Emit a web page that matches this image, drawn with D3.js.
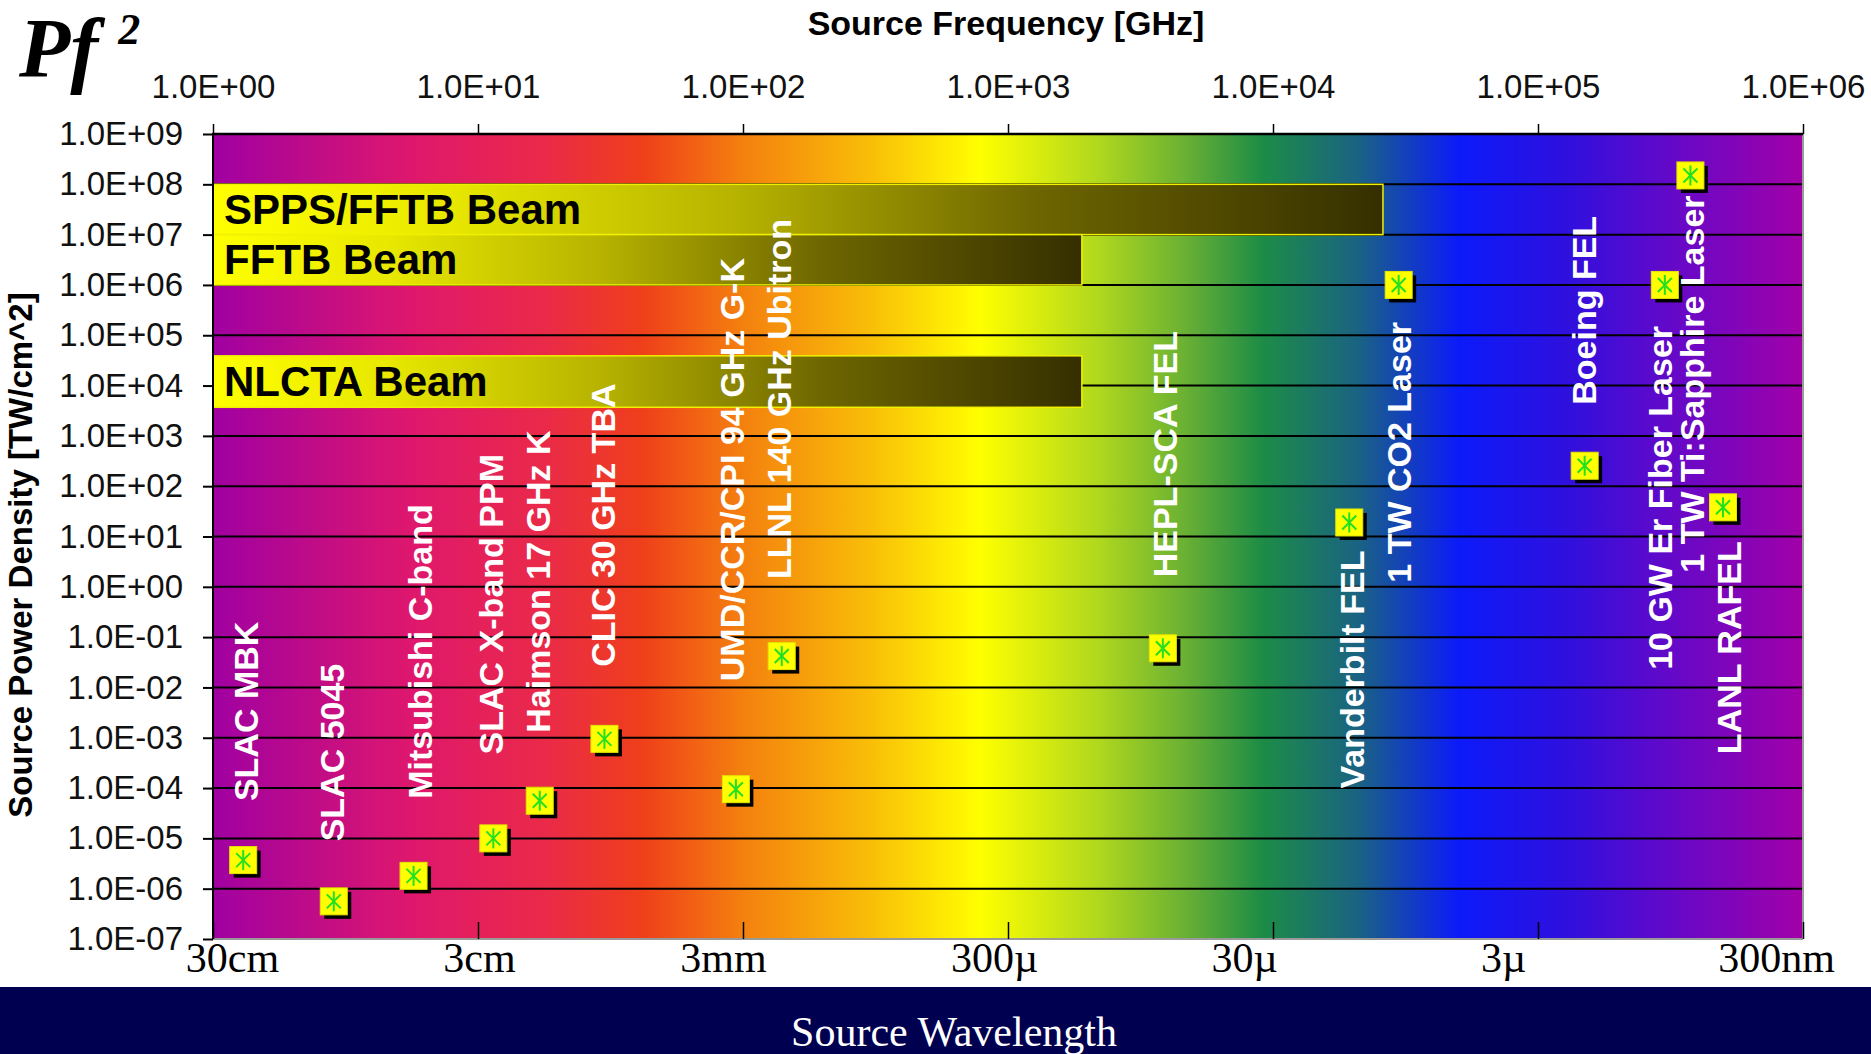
<!DOCTYPE html>
<html><head><meta charset="utf-8">
<script src="https://cdn.jsdelivr.net/npm/d3@7"></script>
<style>body{margin:0;background:#fff;} svg{display:block;}</style>
</head><body>
<svg id="chart" width="1871" height="1054"></svg>
<script>
// ---------------- data ----------------
const sources = ["SLAC MBK", "SLAC 5045", "Mitsubishi C-band", "SLAC X-band PPM", "Haimson 17 GHz K",
  "CLIC 30 GHz TBA", "UMD/CCR/CPI 94 GHz G-K", "LLNL 140 GHz Ubitron", "HEPL-SCA FEL", "Vanderbilt FEL",
  "1 TW CO2 Laser", "Boeing FEL", "10 GW Er Fiber Laser", "1 TW Ti:Sapphire Laser", "LANL RAFEL"];
const freqGHz = [1.3, 2.856, 5.712, 11.424, 17.1, 30, 94, 140, 3840, 19400, 29800, 150000, 301000, 376000, 499000];
const powerDensity = [3.7e-6, 5.6e-7, 1.8e-6, 1.0e-5, 5.6e-5, 9.5e-4, 9.5e-5, 0.042, 0.06, 19, 1.0e6, 255, 1.0e6, 1.5e8, 38];

const beams = ["SPPS/FFTB Beam", "FFTB Beam", "NLCTA Beam"];
const beamMaxFreq = [2.6e4, 1.9e3, 1.9e3];
const beamLow = [1e7, 1e6, 3.7e3];
const beamHigh = [1e8, 1e7, 3.9e4];

const freqTicks = [1, 10, 100, 1e3, 1e4, 1e5, 1e6];
const powerTicks = [1e-7, 1e-6, 1e-5, 1e-4, 1e-3, 1e-2, 1e-1, 1, 10, 100, 1e3, 1e4, 1e5, 1e6, 1e7, 1e8, 1e9];
const gridTicks = [1e-6, 1e-5, 1e-4, 1e-3, 1e-2, 1e-1, 1, 10, 100, 1e3, 1e4, 1e5, 1e6, 1e7, 1e8];
const waveTicks = [0.3, 0.03, 0.003, 3e-4, 3e-5, 3e-6, 3e-7];   // metres
const waveLabels = ["30cm", "3cm", "3mm", "300\u00b5", "30\u00b5", "3\u00b5", "300nm"];

// ---------------- layout (pixels, not data) ----------------
const labelSide = ["above","above","above","above","above","above","above","above","above","below","below","above","below","below","below"];
const labelGap = [59, 60, 77, 84, 68, 72, 108, 77, 71, 28, 37, 61, 41, 20, 34];
const labelDx = [3, -2, 6, -3, -2, -2, -4, -3, 2, 2, 0, -1, -5, 1, 6];
const waveLabelNudge = [19, 1, -20, -14, -29, -35, -27];

const W = 1871, H = 1054;
const L = 213, R = 1803, T = 134, B = 939;
const SANS = "'Liberation Sans', Arial, sans-serif";
const SERIF = "'Liberation Serif', 'Times New Roman', serif";

const svg = d3.select("#chart");
const defs = svg.append("defs");

const x = d3.scaleLog().domain([1, 1e6]).range([L, R]);
const y = d3.scaleLog().domain([1e-7, 1e9]).range([B, T]);
const w = d3.scaleLog().domain([0.3, 3e-7]).range([L, R]);

const fmtE = d => {
  const e = Math.round(Math.log10(d));
  return "1.0E" + (e < 0 ? "-" : "+") + String(Math.abs(e)).padStart(2, "0");
};

// background spectrum gradient
const spectrum = [
  [0.000, "#a000a2"], [0.128, "#e0186c"], [0.210, "#ea2a48"], [0.270, "#ef3f1a"],
  [0.335, "#f4820e"], [0.415, "#f9bf08"], [0.482, "#ffff00"], [0.555, "#b2d91d"],
  [0.612, "#69b034"], [0.660, "#1d8c46"], [0.720, "#1a6382"], [0.784, "#0c1afa"],
  [0.850, "#2e10de"], [0.925, "#6a08c6"], [1.000, "#a200a8"]];
const bg = defs.append("linearGradient").attr("id", "spec")
  .attr("x1", 0).attr("x2", 1).attr("y1", 0).attr("y2", 0);
spectrum.forEach(s => bg.append("stop").attr("offset", s[0]).attr("stop-color", s[1]));

const bgr = defs.append("linearGradient").attr("id", "beam")
  .attr("x1", 0).attr("x2", 1).attr("y1", 0).attr("y2", 0);
[[0, "#ffff00"], [0.2, "#e8e800"], [0.45, "#b6b200"], [0.7, "#6e6600"], [1, "#352f00"]]
  .forEach(s => bgr.append("stop").attr("offset", s[0]).attr("stop-color", s[1]));

svg.append("rect").attr("x", L).attr("y", T).attr("width", R - L).attr("height", B - T)
  .attr("fill", "url(#spec)");

// gridlines
svg.append("g").selectAll("line").data(gridTicks).join("line")
  .attr("x1", L).attr("x2", R).attr("y1", d => y(d)).attr("y2", d => y(d))
  .attr("stroke", "#000").attr("stroke-width", 2);

// beam bars
const bars = svg.append("g").selectAll("g").data(beams).join("g");
bars.append("rect")
  .attr("x", x(1)).attr("y", (d, i) => y(beamHigh[i]))
  .attr("width", (d, i) => x(beamMaxFreq[i]) - x(1))
  .attr("height", (d, i) => y(beamLow[i]) - y(beamHigh[i]))
  .attr("fill", "url(#beam)").attr("stroke", "#f0f000").attr("stroke-width", 1.5);
bars.append("text")
  .attr("x", x(1) + 11).attr("y", (d, i) => (y(beamLow[i]) + y(beamHigh[i])) / 2)
  .attr("dominant-baseline", "central")
  .attr("font-family", SANS).attr("font-weight", "bold").attr("font-size", 42)
  .attr("fill", "#000").text(d => d);

// markers
const ms = 27;
const mk = svg.append("g").selectAll("g").data(sources).join("g")
  .attr("transform", (d, i) => `translate(${x(freqGHz[i])},${y(powerDensity[i])})`);
mk.append("rect").attr("x", -ms / 2 + 4).attr("y", -ms / 2 + 4).attr("width", ms).attr("height", ms).attr("fill", "#000");
mk.append("rect").attr("x", -ms / 2).attr("y", -ms / 2).attr("width", ms).attr("height", ms)
  .attr("fill", "#ffff00").attr("stroke", "#e4e400").attr("stroke-width", 1);
const ast = [[0, -10, 0, 10], [-7, -7, 7, 7], [-7, 7, 7, -7]];
mk.selectAll("line").data(ast).join("line")
  .attr("x1", a => a[0]).attr("y1", a => a[1]).attr("x2", a => a[2]).attr("y2", a => a[3])
  .attr("stroke", "#22e022").attr("stroke-width", 2);

// source labels (rotated)
svg.append("g").selectAll("text").data(sources).join("text")
  .attr("transform", (d, i) => {
    const px = x(freqGHz[i]) + labelDx[i];
    const py = y(powerDensity[i]) + (labelSide[i] === "above" ? -labelGap[i] : labelGap[i]);
    return `translate(${px},${py}) rotate(-90)`;
  })
  .attr("text-anchor", (d, i) => labelSide[i] === "above" ? "start" : "end")
  .attr("dy", "0.36em")
  .attr("font-family", SANS).attr("font-weight", "bold").attr("font-size", 34)
  .attr("fill", "#fff").text(d => d);

// plot borders
svg.append("line").attr("x1", R).attr("x2", R).attr("y1", T).attr("y2", B).attr("stroke", "#9a9a9a").attr("stroke-width", 2);
svg.append("line").attr("x1", L).attr("x2", R).attr("y1", B).attr("y2", B).attr("stroke", "#9a9a9a").attr("stroke-width", 2);
svg.append("line").attr("x1", L - 1).attr("x2", R).attr("y1", T).attr("y2", T).attr("stroke", "#000").attr("stroke-width", 2.5);
svg.append("line").attr("x1", L).attr("x2", L).attr("y1", T).attr("y2", B).attr("stroke", "#000").attr("stroke-width", 2);

// top frequency axis
const gTop = svg.append("g").attr("transform", `translate(0,${T})`)
  .call(d3.axisTop(x).tickValues(freqTicks).tickSize(10).tickPadding(26).tickFormat(fmtE));
gTop.select(".domain").remove();
gTop.selectAll("line").attr("stroke", "#000").attr("stroke-width", 1.5);
gTop.selectAll("text").attr("font-family", SANS).attr("font-size", 33).attr("fill", "#111");

// left power axis
const gLeft = svg.append("g").attr("transform", `translate(${L},0)`)
  .call(d3.axisLeft(y).tickValues(powerTicks).tickSize(10).tickPadding(20).tickFormat(fmtE));
gLeft.select(".domain").remove();
gLeft.selectAll("line").attr("stroke", "#000").attr("stroke-width", 2);
gLeft.selectAll("text").attr("font-family", SANS).attr("font-size", 33).attr("fill", "#111");

// bottom wavelength axis
const gBot = svg.append("g").attr("transform", `translate(0,${B})`)
  .call(d3.axisBottom(w).tickValues(waveTicks).tickSize(-17).tickPadding(3).tickFormat((d, i) => waveLabels[i]));
gBot.select(".domain").remove();
gBot.selectAll("line").attr("stroke", "#000").attr("stroke-width", 1.5);
gBot.selectAll("text").attr("font-family", SERIF).attr("font-size", 42).attr("fill", "#000")
  .attr("dx", (d, i) => waveLabelNudge[i]);

// axis titles
svg.append("text").attr("x", 1006).attr("y", 35).attr("text-anchor", "middle")
  .attr("font-family", SANS).attr("font-weight", "bold").attr("font-size", 34).attr("fill", "#000")
  .text("Source Frequency [GHz]");
svg.append("text").attr("transform", "translate(32,555) rotate(-90)").attr("text-anchor", "middle")
  .attr("font-family", SANS).attr("font-weight", "bold").attr("font-size", 33).attr("fill", "#000")
  .text("Source Power Density [TW/cm^2]");

// Pf^2
const pf = svg.append("text").attr("x", 19).attr("y", 77)
  .attr("font-family", SERIF).attr("font-weight", "bold").attr("font-style", "italic")
  .attr("font-size", 84).attr("fill", "#000");
pf.append("tspan").text("Pf");
pf.append("tspan").attr("font-size", 44).attr("dx", 20).attr("dy", -33).text("2");

// bottom band
svg.append("rect").attr("x", 0).attr("y", 987).attr("width", W).attr("height", H - 987).attr("fill", "#000050");
svg.append("text").attr("x", 954).attr("y", 1046).attr("text-anchor", "middle")
  .attr("font-family", SERIF).attr("font-size", 42).attr("fill", "#fff").text("Source Wavelength");
</script>
</body></html>
